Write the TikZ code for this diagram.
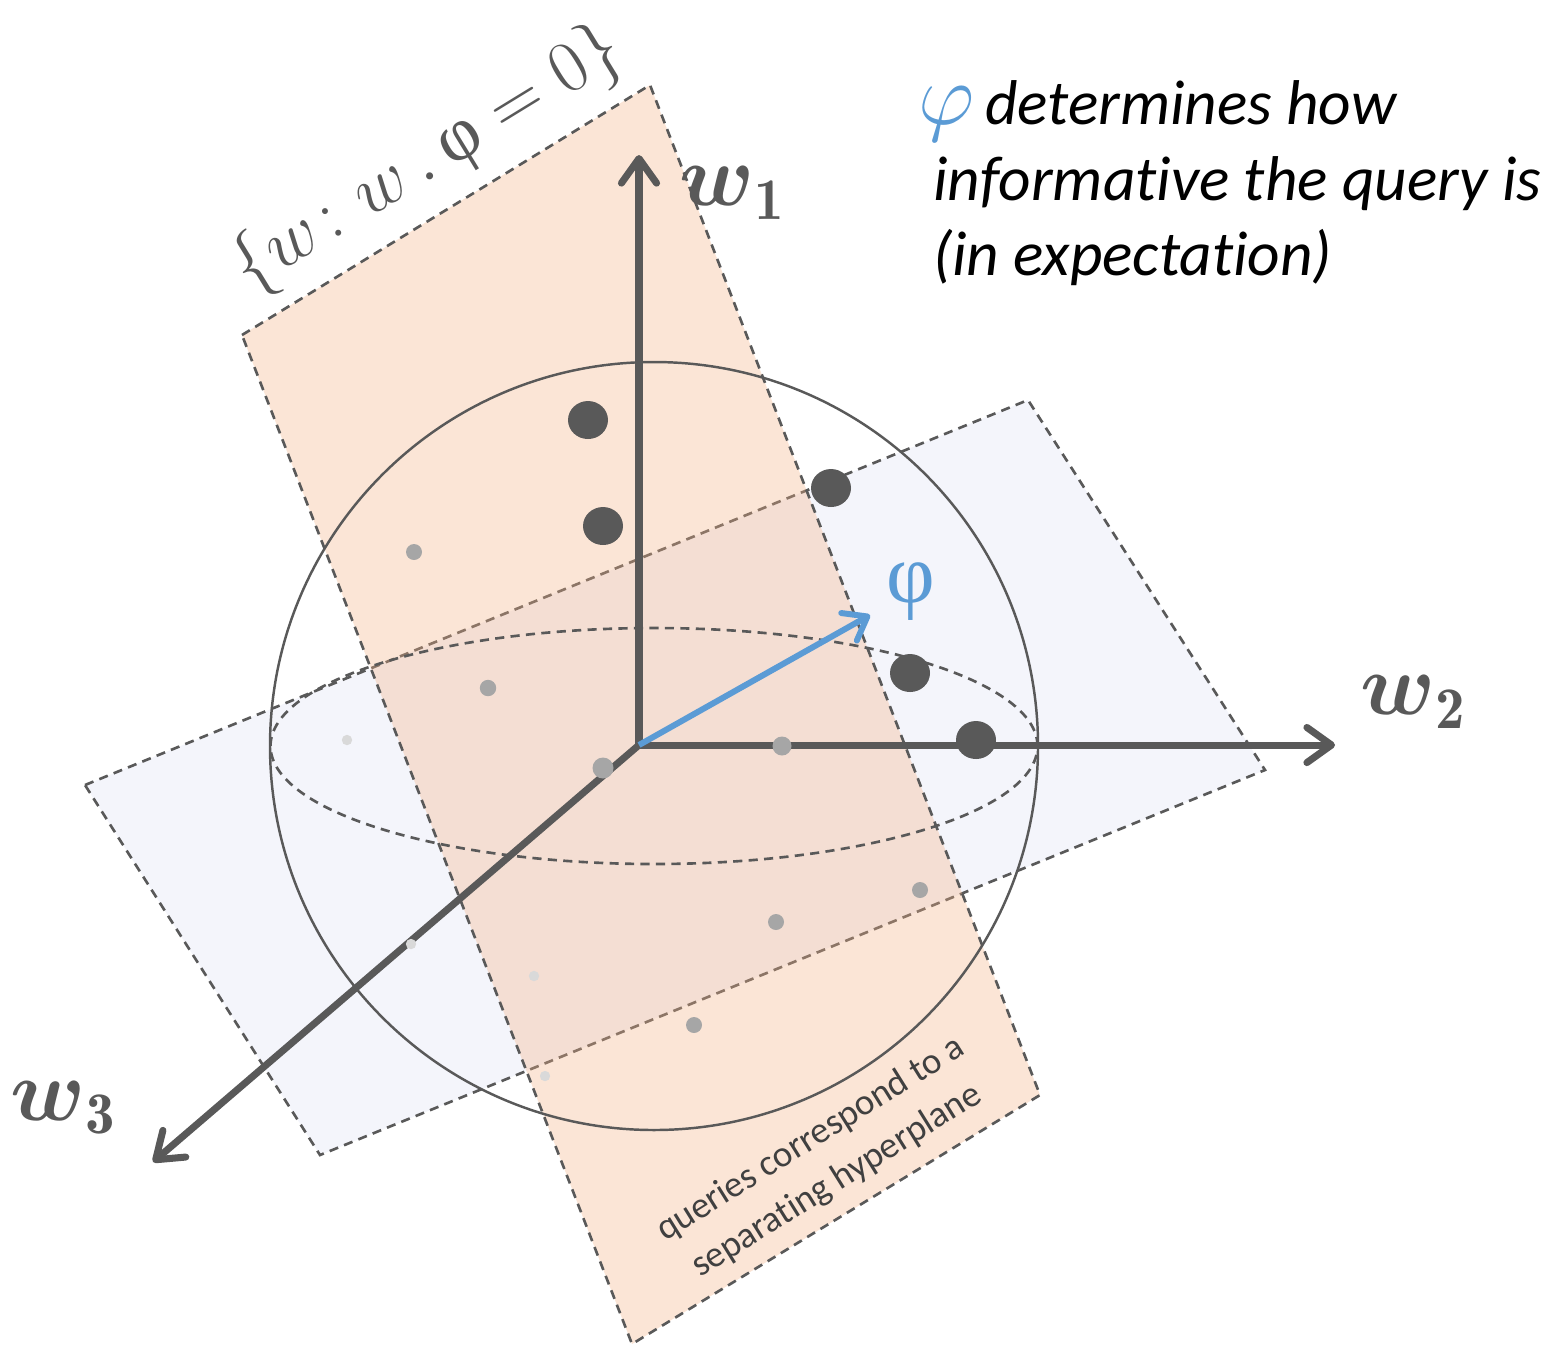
\documentclass[tikz,border=0pt]{standalone}
\usepackage{amsmath}
\usepackage{fontspec}
\newfontfamily\calib{Carlito}[Ligatures=NoCommon]
\newfontfamily\grkfont{Liberation Serif}
\usetikzlibrary{arrows.meta}
\definecolor{axgray}{HTML}{595959}
\definecolor{dotgray}{HTML}{A6A6A6}
\definecolor{dotlight}{HTML}{D9D9D9}
\definecolor{phiblue}{HTML}{5B9BD5}
\definecolor{planeor}{HTML}{F4B183}
\definecolor{planebl}{HTML}{F4F5FB}
\definecolor{txtgray}{HTML}{404040}
\tikzset{
  axis/.style    = {axgray, line width=2pt,
                    -{Straight Barb[length=7pt, width=10pt, round]}},
  phiarrow/.style= {phiblue, line width=1.7pt,
                    -{Straight Barb[length=6pt, width=9pt, round]}},
  edge/.style    = {axgray, line width=0.75pt, dash pattern=on 2.6pt off 1.8pt},
  sphere/.style  = {axgray, line width=0.7pt},
  axlab/.style   = {text=axgray, inner sep=0pt, font=\fontsize{24}{28}\selectfont},
  setlab/.style  = {text=axgray, inner sep=0pt, font=\fontsize{21}{26}\selectfont},
  qlab/.style    = {text=txtgray, inner sep=0pt, align=center,
                    font=\calib\fontsize{10.5}{14}\selectfont},
  note/.style    = {inner sep=0pt, align=left,
                    font=\calib\itshape\fontsize{18}{21.5}\selectfont},
}

\begin{document}
\begin{tikzpicture}[x=0.1mm, y=-0.1mm]
  \useasboundingbox (0,0) rectangle (1561,1346);
  % plane w.phi = 0 (blue) and query plane (orange)
  \coordinate (b1) at (85,785);
  \coordinate (b2) at (1028,400);
  \coordinate (b3) at (1265,770);
  \coordinate (b4) at (320,1155);
  \coordinate (o1) at (242,335);
  \coordinate (o2) at (650,85);
  \coordinate (o3) at (1040,1095);
  \coordinate (o4) at (632,1344);
  \fill[planebl] (b1) -- (b2) -- (b3) -- (b4) -- cycle;
  \draw[edge] (b1) -- (b2) -- (b3) -- (b4) -- cycle;
  \fill[planeor, fill opacity=0.33] (o1) -- (o2) -- (o3) -- (o4) -- cycle;
  \draw[edge] (o1) -- (o2) -- (o3) -- (o4) -- cycle;
  % unit sphere
  \coordinate (c) at (654,746);
  \draw[sphere] (c) circle[radius=38.4mm];
  \draw[edge] (c) ellipse[x radius=38.35mm, y radius=11.8mm];
  % axes
  \coordinate (O) at (639,745);
  \coordinate (t1) at (639,155);
  \coordinate (t2) at (1335,745);
  \coordinate (t3) at (153,1162);
  \coordinate (tphi) at (870,615);
  \draw[axis] (O) -- (t1);
  \draw[axis] (O) -- (t2);
  \draw[axis] (O) -- (t3);
  \draw[phiarrow] (O) -- (tphi);
  % samples
  \foreach \x/\y in {588/420, 603/526, 831/488, 910/673, 976/740}
    \fill[axgray] (\x,\y) ellipse[x radius=2mm, y radius=1.9mm];
  \foreach \x/\y/\r in {414/552/0.8, 488/688/0.82, 603/768/1.05, 782/746/0.95,
                        920/890/0.8, 776/922/0.8, 694/1025/0.8}
    \fill[dotgray] (\x,\y) circle[radius=\r mm];
  \foreach \x/\y in {347/740, 411/944, 534/976, 545/1076}
    \fill[dotlight] (\x,\y) circle[radius=0.52mm];
  % labels
  \node[axlab] (lw1) at (733,193) {$\boldsymbol{w}_{\mathbf{1}}$};
  \node[axlab] (lw2) at (1414,702) {$\boldsymbol{w}_{\mathbf{2}}$};
  \node[axlab] (lw3) at (64,1108) {$\boldsymbol{w}_{\mathbf{3}}$};
  \node[text=phiblue, inner sep=0pt, font=\grkfont\fontsize{24}{28}\selectfont]
    (lphi) at (911,592) {φ};
  \node[setlab, rotate=31.5] (hyp) at (428,160)
    {$\{w\colon w\,.\,\mbox{\grkfont φ} = 0\}$};
  \node[qlab, rotate=32] (query) at (824,1160)
    {queries correspond to a\\separating hyperplane};
  \node[note, anchor=north west] (info) at (918,80)
    {\textcolor{phiblue}{\fontsize{26}{22}\selectfont$\varphi$}\,determines how\\
     \hspace*{0.23em}informative the query is\\
     \hspace*{0.23em}(in expectation)};
\end{tikzpicture}
\end{document}
